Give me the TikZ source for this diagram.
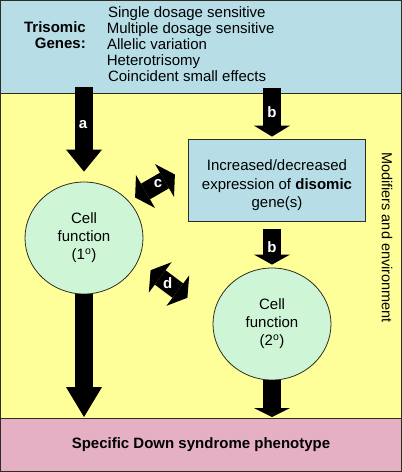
\documentclass[tikz,border=0pt]{standalone}
\usepackage{fontspec}
\setmainfont{Liberation Sans}
\usetikzlibrary{arrows.meta,shapes.geometric}
\definecolor{topblue}{RGB}{183,222,230}
\definecolor{yel}{RGB}{255,255,153}
\definecolor{pinkc}{RGB}{230,176,196}
\definecolor{mint}{RGB}{206,246,214}
\definecolor{edge}{RGB}{45,45,35}
\begin{document}
\begin{tikzpicture}[x=1pt,y=-1pt,
  band/.style={draw=edge, line width=1pt, anchor=north west, minimum width=402pt, inner sep=0pt, outer sep=0pt},
  txt/.style={font=\fontsize{15}{18}\selectfont, inner sep=0pt},
  tb/.style={font=\bfseries\fontsize{15}{18}\selectfont, inner sep=0pt},
  lbl/.style={text=white, font=\bfseries\fontsize{15}{15}\selectfont, inner sep=0pt},
  cellnode/.style={ellipse, draw=edge, line width=0.8pt, fill=mint, minimum width=118pt, minimum height=112pt, align=center, inner sep=0pt, font=\fontsize{15}{18}\selectfont},
  blkarrow/.style={draw=black, line width=18pt, -{Triangle[length=#1, width=36pt, line width=0pt]}},
  dblarrow/.style={draw=black, line width=18pt, {Triangle[length=12pt, width=38pt, line width=0pt]}-{Triangle[length=12pt, width=38pt, line width=0pt]}}
]
\useasboundingbox (0,0) rectangle (402,472);
% bands
\node[band, fill=topblue, minimum height=93pt] (top) at (0,0) {};
\node[band, fill=yel, minimum height=325pt] (mid) at (0,93) {};
\node[band, fill=pinkc, minimum height=54pt] (bot) at (0,418) {};
% top texts
\node[tb, anchor=base east] (tri1) at (86,32.5) {Trisomic};
\node[tb, anchor=base east] (tri2) at (86,48.7) {Genes:};
\node[txt, anchor=base west] (g1) at (107.8,17) {Single dosage sensitive};
\node[txt, anchor=base west] (g2) at (106.6,33.2) {Multiple dosage sensitive};
\node[txt, anchor=base west] (g3) at (106.8,49.4) {Allelic variation};
\node[txt, anchor=base west] (g4) at (106.6,65.6) {Heterotrisomy};
\node[txt, anchor=base west] (g5) at (107.8,81.8) {Coincident small effects};
% box and circles
\node[draw=edge, line width=0.8pt, fill=topblue, minimum width=177pt, minimum height=82pt, inner sep=0pt] (box) at (276.5,180) {};
\node[txt, align=center, font=\fontsize{15}{18.5}\selectfont] (boxtxt) at (277,185.5) {Increased/decreased\\expression of \textbf{disomic}\\gene(s)};
\node[cellnode] (c1) at (84,238) {Cell\\function\\(1\textsuperscript{o})};
\node[cellnode] (c2) at (272,324) {Cell\\function\\(2\textsuperscript{o})};
% side text
\node[txt, rotate=-90, font=\fontsize{14.5}{18}\selectfont] (mod) at (387,237.5) {Modifiers and environment};
% bottom text
\node[tb, anchor=base] (pheno) at (201,448.3) {Specific Down syndrome phenotype};
% arrows
\coordinate (a0) at (84,87);
\draw[blkarrow=22pt, shorten >=10pt] (a0) -- (c1.north);
\draw[blkarrow=30pt, shorten >=1pt] (c1.south) -- (c1.south |- bot.north);
\coordinate (b0) at (272,88);
\draw[blkarrow=11pt, shorten >=2pt] (b0) -- (b0 |- box.north);
\coordinate (b1) at (272,229);
\draw[blkarrow=10pt, shorten >=3pt] (b1) -- (c2.north);
\draw[blkarrow=9pt, shorten >=1pt] (c2.south) -- (c2.south |- bot.north);
\coordinate (cA) at (135.1,197.5);
\coordinate (cB) at (174.9,174.5);
\draw[dblarrow] (cA) -- (cB);
\coordinate (dA) at (150.6,270.2);
\coordinate (dB) at (187.4,297.8);
\draw[dblarrow] (dA) -- (dB);
% labels
\node[lbl] (la) at (83,125) {a};
\node[lbl] (lb1) at (272,112) {b};
\node[lbl] (lb2) at (272,247.3) {b};
\node[lbl] (lc) at (158,183.3) {c};
\node[lbl] (ld) at (167.7,283) {d};
% outer border
\draw[draw=edge, line width=1.6pt] (0,0) rectangle (402,472);
\end{tikzpicture}
\end{document}
